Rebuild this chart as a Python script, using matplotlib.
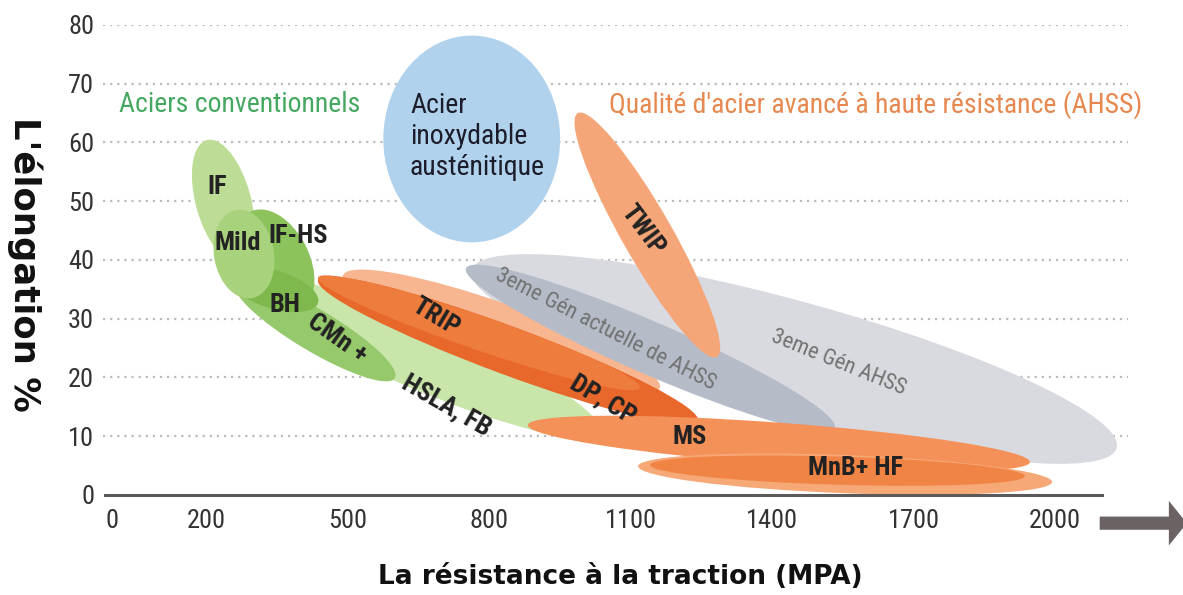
import numpy as np
import matplotlib
matplotlib.use("Agg")
import matplotlib.pyplot as plt
from matplotlib.patches import Ellipse
from matplotlib.transforms import IdentityTransform
from matplotlib import font_manager

# ---------------- data ----------------
# bands: major-axis end points (tensile strength MPa, elongation %) and spread (% elongation)
band_names = ["3eme Gen AHSS", "TRIP halo", "3eme Gen actuelle", "TWIP", "HSLA, FB",
              "DP, CP", "TRIP", "MS", "MnB+ HF outer", "MnB+ HF", "CMn +",
              "IF", "IF-HS", "BH", "Mild"]
band_x1 = [763, 490, 751, 988, 282, 437, 437, 882, 1116, 1141, 261, 201, 293, 246, 263]
band_y1 = [38.3, 37.4, 38.6, 65.0, 36.3, 36.6, 37.0, 11.9, 4.9, 5.1, 36.1, 60.4, 48.2, 37.4, 48.5]
band_x2 = [2131, 1162, 1533, 1283, 1035, 1243, 1120, 1947, 1994, 1936, 600, 271, 399, 437, 297]
band_y2 = [8.0, 18.2, 11.4, 23.5, 10.7, 12.6, 18.2, 5.6, 2.2, 3.2, 19.9, 39.7, 31.5, 32.7, 33.5]
band_spread = [19.6, 9.4, 8.9, 8.5, 11.2, 8.2, 5.8, 7.1, 6.5, 4.8, 7.1, 9.4, 11.6, 6.5, 10.2]

# austenitic stainless: centre and extent
aus_x, aus_y, aus_w, aus_h = 763, 60.6, 375, 35.2

# labels
lab_text = ["IF", "Mild", "IF-HS", "BH", "CMn +", "HSLA, FB", "TRIP", "DP, CP", "MS",
            "MnB+ HF", "TWIP"]
lab_x = [223, 267, 394, 367, 477, 710, 687, 1041, 1226, 1576, 1126]
lab_y = [52.4, 42.9, 44.1, 32.3, 26.7, 15.3, 30.3, 16.2, 9.9, 4.6, 45.1]
lab_rot = [0, 0, 0, 0, -35, -30, -31, -31, 0, 0, -53]

gray_text = ["3eme Gén actuelle de AHSS", "3eme Gén AHSS"]
gray_x = [1046, 1540]
gray_y = [28.1, 22.5]
gray_rot = [-27, -22]

x_ticks = [0, 200, 500, 800, 1100, 1400, 1700, 2000]
y_ticks = [0, 10, 20, 30, 40, 50, 60, 70, 80]

# ---------------- styles ----------------
band_colors = ["#d8dadf", "#f7b690", "#b5bbc7", "#f5a678", "#c9e5aa",
               "#e8672a", "#ee7c3c", "#f39159", "#f6a877", "#ef8444", "#96c96b",
               "#bddd96", "#8cc35c", "#7fb84d", "#a8d27b"]

# pick a narrow sans font if one is installed
def pick_narrow():
    fl = font_manager.fontManager.ttflist
    def has(name, stretch):
        for f in fl:
            if f.name == name:
                if stretch == "normal":
                    return True
                s = f.stretch
                if isinstance(s, str) and "condensed" in s:
                    return True
                if isinstance(s, (int, float)) and s < 500:
                    return True
        return False
    for name, st in [("Liberation Sans Narrow", "normal"), ("Roboto Condensed", "normal"),
                     ("Open Sans Condensed", "normal"), ("DejaVu Sans", "condensed"),
                     ("Noto Sans", "condensed"), ("Roboto", "condensed"),
                     ("Open Sans", "condensed")]:
        if has(name, st):
            return name, st
    return "Roboto", "normal"

NF, NS = pick_narrow()

def fp(size, weight="normal"):
    return font_manager.FontProperties(family=[NF, "DejaVu Sans"], stretch=NS,
                                       size=size, weight=weight)

fig = plt.figure(figsize=(11.83, 5.95), dpi=100)
ax = fig.add_axes([0.0867, 0.1681, 0.8668, 0.7899])
ax.set_xlim(-20, 2155)
ax.set_ylim(0, 80)

# grid
for yv in y_ticks[1:]:
    ax.axhline(yv, color="#bcbcbc", lw=1.6, ls=(0, (1, 2.2)), zorder=0)

for s in ["top", "right", "left"]:
    ax.spines[s].set_visible(False)
ax.spines["bottom"].set_color("#5a5a5a")
ax.spines["bottom"].set_linewidth(2.2)
ax.spines["bottom"].set_bounds(-15, 2100)
ax.set_xticks(x_ticks)
ax.set_yticks(y_ticks)
ax.tick_params(length=0, labelcolor="#333333")
ax.tick_params(axis="x", pad=10)
ax.tick_params(axis="y", pad=6)
for lab in ax.get_xticklabels() + ax.get_yticklabels():
    lab.set_fontproperties(fp(19))

# draw bands in display space so the shapes stay true ellipses
def band(x1, y1, x2, y2, spread, color, z):
    p1 = ax.transData.transform((x1, y1))
    p2 = ax.transData.transform((x2, y2))
    c = (p1 + p2) / 2
    d = p2 - p1
    length = np.hypot(d[0], d[1])
    ang = np.degrees(np.arctan2(d[1], d[0]))
    yscale = ax.transData.transform((0, 1))[1] - ax.transData.transform((0, 0))[1]
    e = Ellipse(c, length, spread * yscale, angle=ang, transform=IdentityTransform(),
                facecolor=color, edgecolor="none", zorder=z)
    ax.add_patch(e)

ax.add_patch(Ellipse((aus_x, aus_y), aus_w, aus_h, facecolor="#b0d2ec",
                     edgecolor="none", zorder=1))

for i in range(len(band_names)):
    band(band_x1[i], band_y1[i], band_x2[i], band_y2[i], band_spread[i],
         band_colors[i], 1 + i * 0.01)

for t, x, y, r in zip(lab_text, lab_x, lab_y, lab_rot):
    ax.text(x, y, t, rotation=r, ha="center", va="center", fontproperties=fp(19, "bold"),
            color="#222222", zorder=5, rotation_mode="anchor")

for t, x, y, r in zip(gray_text, gray_x, gray_y, gray_rot):
    ax.text(x, y, t, rotation=r, ha="center", va="center", fontproperties=fp(16),
            color="#727272", zorder=5, rotation_mode="anchor")

ax.text(632, 61, "Acier\ninoxydable\nausténitique", ha="left", va="center",
        fontproperties=fp(20), color="#1c1c2a", linespacing=1.2, zorder=5)
ax.text(271, 66.4, "Aciers conventionnels", ha="center", va="center",
        fontproperties=fp(20), color="#45a860", zorder=5)
ax.text(1620, 66.4, "Qualité d'acier avancé à haute résistance (AHSS)", ha="center",
        va="center", fontproperties=fp(20), color="#e6884f", zorder=5)

# axis labels
fig.text(0.021, 0.555, "L'élongation %", rotation=-90, ha="center", va="center",
         fontsize=25.5, fontweight="bold", color="#111111", family="DejaVu Sans")
fig.text(0.524, 0.03, "La résistance à la traction (MPA)", ha="center", va="center",
         fontsize=19, fontweight="bold", color="#111111", family="DejaVu Sans")

# arrow to the right of the x axis
ax.annotate("", xy=(2280, -4.8), xytext=(2095, -4.8), xycoords="data",
            annotation_clip=False,
            arrowprops=dict(arrowstyle="simple,head_length=13,head_width=32,tail_width=9.5",
                            mutation_scale=1, shrinkA=0, shrinkB=0,
                            color="#6b6363", lw=0))

fig.savefig("out.png", dpi=100)
